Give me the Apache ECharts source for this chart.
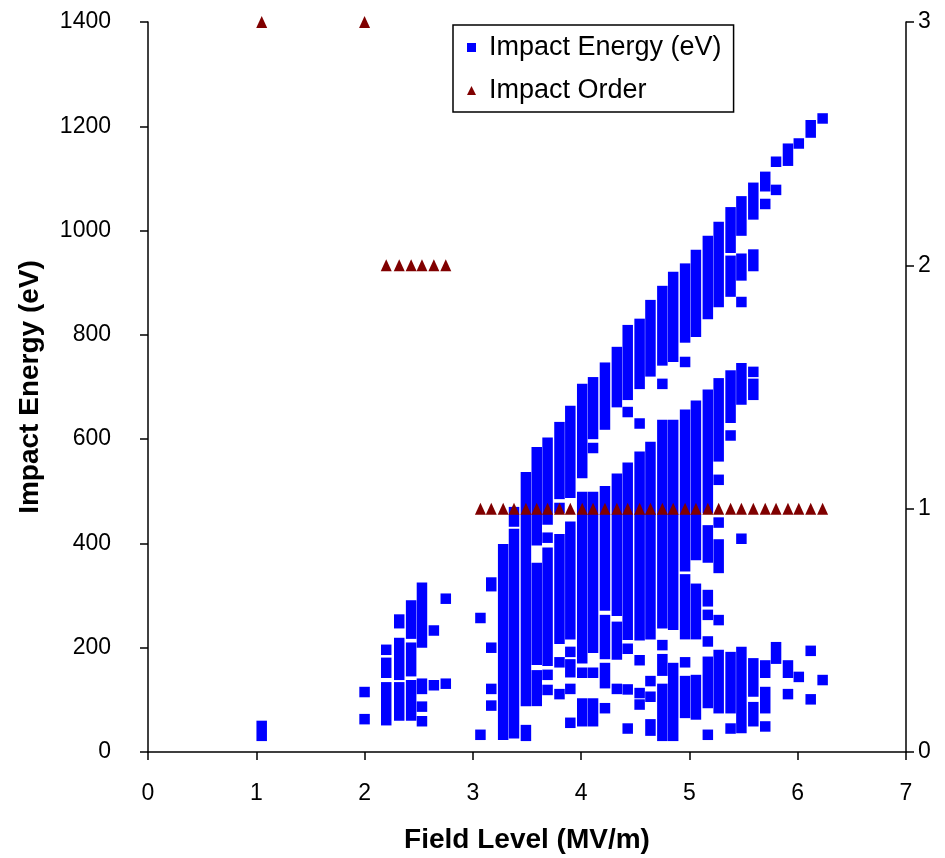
<!DOCTYPE html>
<html>
<head>
<meta charset="utf-8">
<script src="https://cdn.jsdelivr.net/npm/echarts@6/dist/echarts.min.js"></script>
<style>
  html, body { margin: 0; padding: 0; background: #fff; }
  #chart { width: 945px; height: 858px; }
</style>
</head>
<body>
<div id="chart"></div>
<script>
// field levels (MV/m), one per simulated case
const fieldLevels = [
  1.05, 2.00, 2.20, 2.32, 2.43, 2.53, 2.64, 2.75,
  3.07, 3.17, 3.28, 3.38, 3.49, 3.59, 3.69, 3.80, 3.90, 4.01,
  4.11, 4.22, 4.33, 4.43, 4.54, 4.64, 4.75, 4.85, 4.96, 5.06,
  5.17, 5.27, 5.38, 5.48, 5.59, 5.70, 5.80, 5.91, 6.01, 6.12, 6.23
];

// multipacting order at each field level
const impactOrder = [
  3, 3, 2, 2, 2, 2, 2, 2,
  1, 1, 1, 1, 1, 1, 1, 1, 1, 1,
  1, 1, 1, 1, 1, 1, 1, 1, 1, 1,
  1, 1, 1, 1, 1, 1, 1, 1, 1, 1, 1
];

// impact energies (eV) per field level: a number is one marker,
// a pair [low, high] is a run of overlapping markers
const impactEnergy = [
  [[31, 50]],
  [63, 115],
  [[61, 124], [152, 171], 196],
  [[70, 124], [148, 209], [247, 254]],
  [[70, 128], [155, 200], [227, 281]],
  [59, 87, [121, 131], [210, 315]],
  [128, 233],
  [131, 294],
  [33, 257],
  [89, 121, 200, [318, 325]],
  [[33, 389]],
  [[36, 418], [442, 460]],
  [[31, 42], [98, 527]],
  [[98, 147], [177, 353], [406, 575]],
  [119, 148, [175, 382], 411, [446, 593]],
  [111, 172, [217, 408], 468, [495, 623]],
  [56, 121, [153, 168], 192, [226, 432], [497, 654]],
  [[59, 93], 152, [180, 489], [535, 696]],
  [[59, 93], 152, [200, 489], 583, [610, 709]],
  [84, [132, 161], [188, 253], [281, 500], [628, 737]],
  [121, [187, 240], [271, 524], [671, 767]],
  [45, 120, 198, [225, 545], 652, [685, 809]],
  [91, 113, 176, [224, 566], 630, [706, 821]],
  [[41, 53], 106, 136, [226, 585], [730, 857]],
  [[31, 121], [156, 178], 205, [247, 627], 706, [751, 884]],
  [[31, 161], [244, 627], [758, 911]],
  [[75, 136], 172, [226, 331], [356, 647], 748, [795, 927]],
  [[72, 138], [226, 313], [378, 664], [806, 953]],
  [33, [94, 173], 212, 263, [289, 301], [373, 425], [468, 685], [840, 980]],
  [[84, 186], 253, [353, 398], 440, 522, [567, 707], [863, 1007]],
  [45, [84, 182], 607, [641, 722], [883, 942], [967, 1035]],
  [[46, 192], 409, [676, 736], 863, [914, 946], [1000, 1056]],
  [[59, 86], [116, 170], [685, 706], 729, [932, 954], [1031, 1082]],
  [49, [84, 115], [152, 166], 1051, [1085, 1103]],
  [[179, 201], 1078, 1132],
  [111, [152, 166], [1134, 1157]],
  [144, 1167],
  [101, 194, [1188, 1202]],
  [138, 1215]
];

const energyTicks = [0, 200, 400, 600, 800, 1000, 1200, 1400];
const orderTicks = [0, 1, 2, 3];

// flatten to [x, low, high] rows
const energyRows = [];
fieldLevels.forEach((x, i) => {
  impactEnergy[i].forEach((v) => {
    if (Array.isArray(v)) energyRows.push([x, v[0], v[1]]);
    else energyRows.push([x, v, v]);
  });
});
const orderRows = fieldLevels.map((x, i) => [x, impactOrder[i]]);

const MARK = 10.5; // marker size in px

function renderEnergy(params, api) {
  const x = api.value(0);
  const top = api.coord([x, api.value(2)]);
  const bot = api.coord([x, api.value(1)]);
  return {
    type: "rect",
    shape: {
      x: top[0] - MARK / 2,
      y: top[1] - MARK / 2,
      width: MARK,
      height: bot[1] - top[1] + MARK,
    },
    style: api.style(),
  };
}

const font = "Liberation Sans, Arial, sans-serif";
const axisLine = { show: true, lineStyle: { color: "#000", width: 1.5 } };
const axisTick = { show: true, length: 8, lineStyle: { color: "#000", width: 1.5 } };
const plain = (v) => String(v); // no thousands separator

const chart = echarts.init(document.getElementById("chart"));
chart.setOption({
  animation: false,
  backgroundColor: "#fff",
  textStyle: { fontFamily: font, color: "#000" },
  grid: { left: 148, right: 39, top: 22, bottom: 106, containLabel: false, outerBoundsMode: "none" },
  legend: {
    left: 453,
    top: 25,
    orient: "vertical",
    borderColor: "#000",
    borderWidth: 1.5,
    padding: [9, 12, 8, 14],
    itemGap: 16,
    itemWidth: 9,
    itemHeight: 9,
    textStyle: { fontSize: 27, color: "#000", fontFamily: font, padding: [0, 0, 0, 8] },
    data: [
      { name: "Impact Energy (eV)", icon: "rect" },
      { name: "Impact Order", icon: "triangle" },
    ],
  },
  xAxis: {
    type: "value",
    min: 0,
    max: 7,
    interval: 1,
    name: "Field Level (MV/m)",
    nameLocation: "middle",
    nameGap: 74,
    nameTextStyle: { fontSize: 28, fontWeight: "bold", color: "#000", fontFamily: font },
    axisLine: axisLine,
    axisTick: axisTick,
    axisLabel: { fontSize: 23, color: "#000", margin: 30, fontFamily: font, formatter: plain },
    splitLine: { show: false },
  },
  yAxis: [
    {
      type: "value",
      min: energyTicks[0],
      max: energyTicks[energyTicks.length - 1],
      interval: 200,
      name: "Impact Energy (eV)",
      nameLocation: "middle",
      nameGap: 104,
      nameTextStyle: { fontSize: 28, fontWeight: "bold", color: "#000", fontFamily: font },
      axisLine: axisLine,
      axisTick: axisTick,
      axisLabel: { fontSize: 23, color: "#000", margin: 37, fontFamily: font, formatter: plain },
      splitLine: { show: false },
    },
    {
      type: "value",
      position: "right",
      min: orderTicks[0],
      max: orderTicks[orderTicks.length - 1],
      interval: 1,
      axisLine: axisLine,
      axisTick: axisTick,
      axisLabel: { fontSize: 23, color: "#000", margin: 12, fontFamily: font, formatter: plain },
      splitLine: { show: false },
    },
  ],
  series: [
    {
      name: "Impact Energy (eV)",
      type: "custom",
      renderItem: renderEnergy,
      encode: { x: 0, y: [1, 2] },
      itemStyle: { color: "#0000ff" },
      data: energyRows,
      z: 2,
    },
    {
      name: "Impact Order",
      type: "scatter",
      yAxisIndex: 1,
      symbol: "triangle",
      symbolSize: [11, 12],
      itemStyle: { color: "#800000", opacity: 1 },
      data: orderRows,
      z: 3,
    },
  ],
});
</script>
</body>
</html>
